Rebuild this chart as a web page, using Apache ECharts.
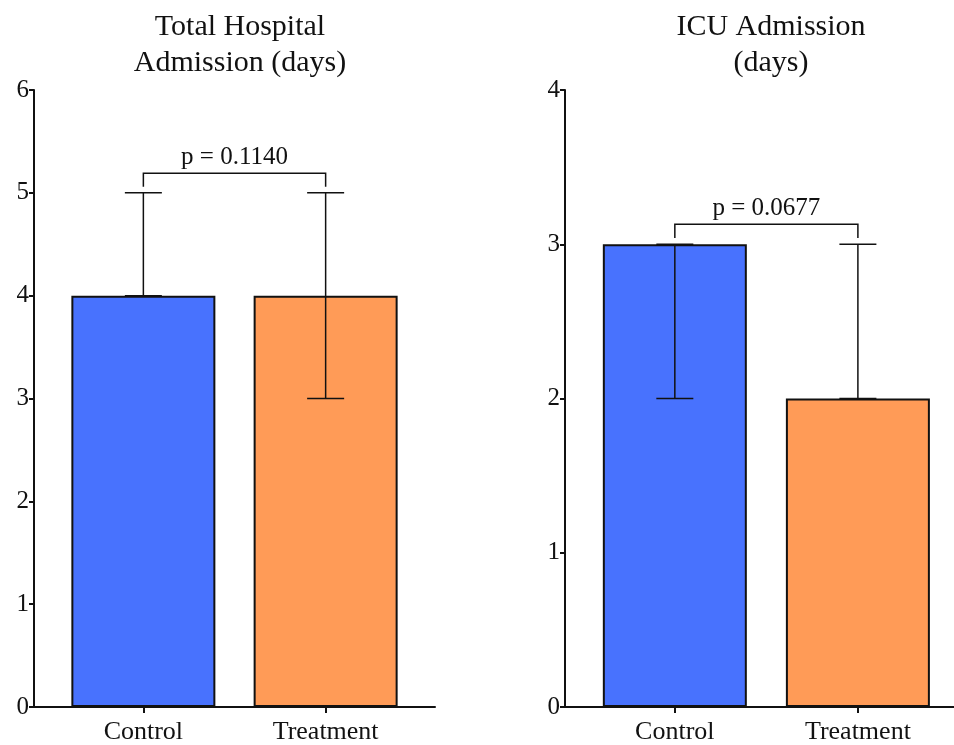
<!DOCTYPE html>
<html><head><meta charset="utf-8">
<script src="https://cdn.jsdelivr.net/npm/echarts@6/dist/echarts.min.js"></script>
<style>html,body{margin:0;padding:0;background:#fff}#c{width:954px;height:745px}</style>
</head><body><div id="c"></div>
<script>
const categories = ['Control', 'Treatment'];
const titles = ['Total Hospital\nAdmission (days)', 'ICU Admission\n(days)'];
// panel 1: Total hospital admission
const hospMeans = [4, 4];
const hospLow = [4, 3];
const hospHigh = [5, 5];
const hospP = 'p = 0.1140';
const hospBracket = [5.06, 5.19]; // [end of drop, top]
const hospMax = 6;
// panel 2: ICU admission
const icuMeans = [3, 2];
const icuLow = [2, 2];
const icuHigh = [3, 3];
const icuP = 'p = 0.0677';
const icuBracket = [3.04, 3.13];
const icuMax = 4;

const colors = ['#4872FE', '#FF9B57'];
const FONT = '"Liberation Serif", "DejaVu Serif", serif';

const chart = echarts.init(document.getElementById('c'));

const panels = [
  {means: hospMeans, low: hospLow, high: hospHigh, p: hospP, br: hospBracket, max: hospMax, left: 34, width: 401, xmax: 1.6, tx: 235},
  {means: icuMeans, low: icuLow, high: icuHigh, p: icuP, br: icuBracket, max: icuMax, left: 565, width: 389, xmax: 1.525, tx: 766}
];

const grids = [], xAxes = [], yAxes = [], series = [], title = [];
panels.forEach((pn, i) => {
  grids.push({left: pn.left, top: 90, width: pn.width, height: 617, containLabel: false});
  title.push({text: titles[i], left: pn.tx, top: 4, textAlign: 'center',
    textStyle: {fontFamily: FONT, fontSize: 30, fontWeight: 'normal', color: '#111', lineHeight: 36}});
  xAxes.push({type: 'value', gridIndex: i, min: -0.6, max: pn.xmax,
    splitLine: {show: false},
    axisLine: {show: true, onZero: false, lineStyle: {color: '#111', width: 2}},
    axisTick: {show: true, customValues: [0, 1], length: 6, lineStyle: {color: '#111', width: 2}},
    axisLabel: {customValues: [0, 1], formatter: v => categories[Math.round(v)] || '',
      fontFamily: FONT, fontSize: 26, color: '#111', margin: 12}
  });
  yAxes.push({type: 'value', gridIndex: i, min: 0, max: pn.max, interval: 1,
    splitLine: {show: false},
    axisLine: {show: true, onZero: false, lineStyle: {color: '#111', width: 2}},
    axisTick: {show: true, length: 5, lineStyle: {color: '#111', width: 2}},
    axisLabel: {fontFamily: FONT, fontSize: 25, color: '#111', margin: 5}
  });
  series.push({type: 'bar', xAxisIndex: i, yAxisIndex: i, barWidth: 144,
    data: pn.means.map((m, k) => ({value: [k, m], itemStyle: {color: colors[k]}})),
    itemStyle: {borderColor: '#111', borderWidth: 2},
    z: 2
  });
  series.push({type: 'custom', xAxisIndex: i, yAxisIndex: i, z: 3,
    data: pn.means.map((m, k) => [k, pn.low[k], pn.high[k]]),
    renderItem: (params, api) => {
      const x = api.value(0);
      const lo = api.coord([x, api.value(1)]);
      const hi = api.coord([x, api.value(2)]);
      const half = 18.5;
      const ls = {stroke: '#111', lineWidth: 1.5};
      return {type: 'group', children: [
        {type: 'line', shape: {x1: lo[0], y1: lo[1], x2: hi[0], y2: hi[1]}, style: ls},
        {type: 'line', shape: {x1: hi[0] - half, y1: hi[1], x2: hi[0] + half, y2: hi[1]}, style: ls},
        {type: 'line', shape: {x1: lo[0] - half, y1: lo[1], x2: lo[0] + half, y2: lo[1]}, style: ls}
      ]};
    }
  });
  series.push({type: 'custom', xAxisIndex: i, yAxisIndex: i, z: 4,
    data: [[0, 1, pn.br[0], pn.br[1]]],
    renderItem: (params, api) => {
      const a0 = api.coord([api.value(0), api.value(2)]);
      const a1 = api.coord([api.value(0), api.value(3)]);
      const b1 = api.coord([api.value(1), api.value(3)]);
      const b0 = api.coord([api.value(1), api.value(2)]);
      return {type: 'group', children: [
        {type: 'polyline', shape: {points: [a0, a1, b1, b0]}, style: {stroke: '#111', lineWidth: 1.5, fill: null}},
        {type: 'text', style: {text: pn.p, x: (a1[0] + b1[0]) / 2, y: a1[1] - 3,
          align: 'center', verticalAlign: 'bottom', font: '25px ' + FONT, fill: '#111'}}
      ]};
    }
  });
});

chart.setOption({
  animation: false,
  backgroundColor: '#fff',
  title: title,
  grid: grids,
  xAxis: xAxes,
  yAxis: yAxes,
  series: series
});
</script></body></html>
